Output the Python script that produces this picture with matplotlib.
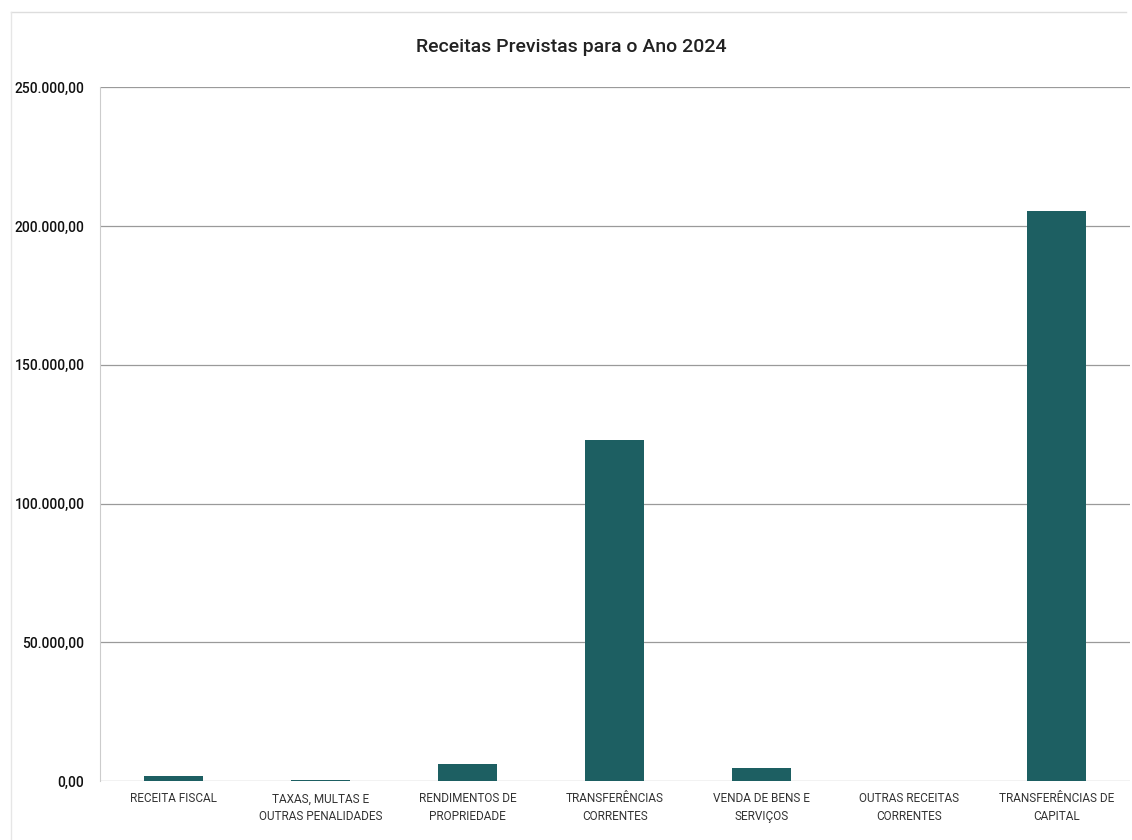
import numpy as np
import matplotlib
matplotlib.use("Agg")
import matplotlib.pyplot as plt
from matplotlib.ticker import FuncFormatter

plt.rcParams['font.family'] = ['Roboto', 'DejaVu Sans']

# receitas previstas 2024
categorias = ["RECEITA FISCAL", "TAXAS, MULTAS E\nOUTRAS PENALIDADES",
              "RENDIMENTOS DE\nPROPRIEDADE", "TRANSFERÊNCIAS\nCORRENTES",
              "VENDA DE BENS E\nSERVIÇOS", "OUTRAS RECEITAS\nCORRENTES",
              "TRANSFERÊNCIAS DE\nCAPITAL"]
valores = [1800, 600, 6100, 123000, 4800, 0, 205500]
yticks = [0, 50000, 100000, 150000, 200000, 250000]

cor = '#1d5f62'


def fmt_pt(v, pos=None):
    s = "{:,.2f}".format(v)
    return s.replace(",", "X").replace(".", ",").replace("X", ".")


fig = plt.figure(figsize=(11.32, 8.4), dpi=100)
ax = fig.add_axes([0.088, 0.070, 0.910, 0.826])

x = np.arange(len(categorias))
ax.bar(x, valores, width=0.40, color=cor, zorder=3)

ax.set_xlim(-0.5, len(categorias) - 0.5)
ax.set_ylim(0, 250000)
ax.set_yticks(yticks)
ax.yaxis.set_major_formatter(FuncFormatter(fmt_pt))
ax.set_xticks(x)
ax.set_xticklabels(categorias, fontsize=8.5, color='#333333', linespacing=1.5)
ax.tick_params(axis='y', labelsize=10, length=0, pad=11, labelcolor='#111111')
ax.tick_params(axis='x', length=0, pad=8)
for lab in ax.get_yticklabels():
    lab.set_fontweight('medium')

ax.grid(axis='y', color='#9a9a9a', linewidth=0.9, zorder=0)
for s in ['top', 'right', 'bottom']:
    ax.spines[s].set_visible(False)
ax.spines['left'].set_color('#cccccc')
ax.spines['left'].set_linewidth(0.8)

fig.text(0.505, 0.944, "Receitas Previstas para o Ano 2024", ha='center',
         va='center', fontsize=14, color='#222222', fontweight='medium')

# moldura leve do grafico original
fig.add_artist(plt.Line2D([0.01, 0.995], [0.986, 0.986], color='#dddddd',
                          linewidth=1, transform=fig.transFigure))
fig.add_artist(plt.Line2D([0.01, 0.01], [0.0, 0.986], color='#e6e6e6',
                          linewidth=1, transform=fig.transFigure))

fig.savefig("out.png", dpi=100)
plt.close()
